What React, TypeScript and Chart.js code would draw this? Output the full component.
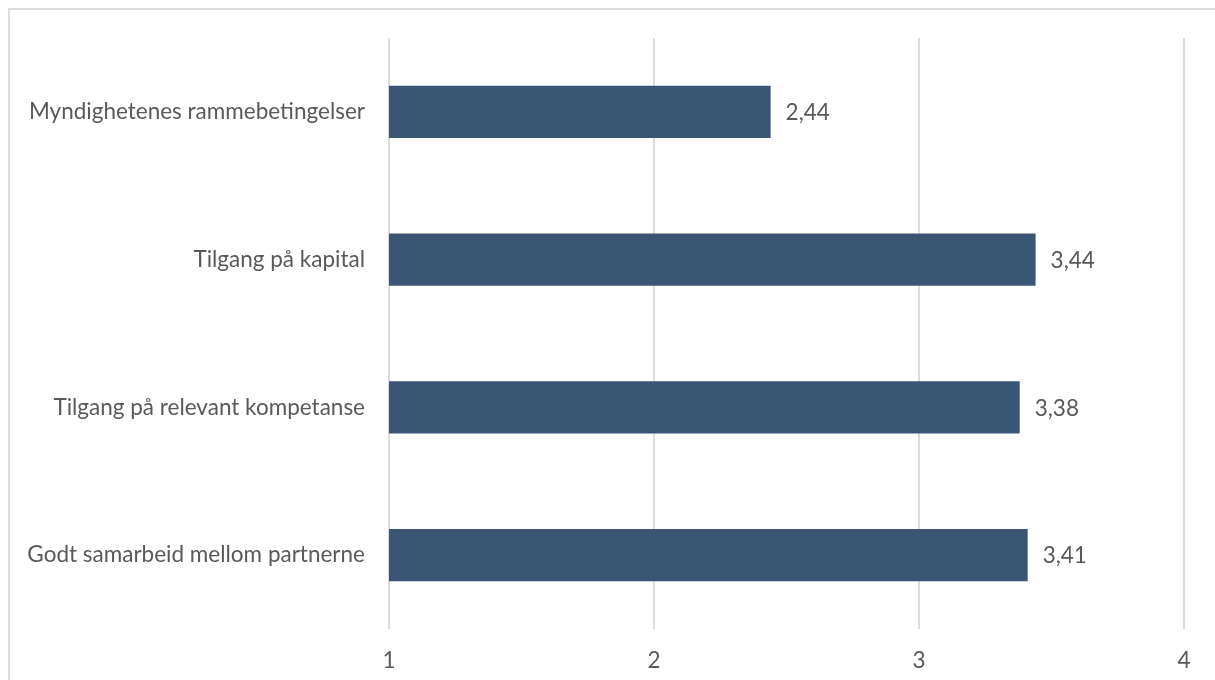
import React, { useEffect, useRef } from "react";
import { Chart, registerables } from "chart.js";

Chart.register(...registerables);

const categories = [
  "Myndighetenes rammebetingelser",
  "Tilgang på kapital",
  "Tilgang på relevant kompetanse",
  "Godt samarbeid mellom partnerne",
];
const values = [2.44, 3.44, 3.38, 3.41];
const xTicks = [1, 2, 3, 4];

const FONT = "Lato";
const TEXT = "#595959";
const BAR = "#3B5674";
const FS = 22.5;

const valueLabels = {
  id: "valueLabels",
  afterDatasetsDraw(chart: any) {
    const ctx = chart.ctx;
    const meta = chart.getDatasetMeta(0);
    ctx.save();
    ctx.font = `${FS}px ${FONT}`;
    ctx.fillStyle = TEXT;
    ctx.textAlign = "left";
    ctx.textBaseline = "middle";
    meta.data.forEach((el: any, i: number) => {
      const v = chart.data.datasets[0].data[i] as number;
      ctx.fillText(v.toFixed(2).replace(".", ","), el.x + 15, el.y + 1);
    });
    ctx.restore();
  },
};

export default function App() {
  const ref = useRef<HTMLCanvasElement | null>(null);
  useEffect(() => {
    if (!ref.current) return;
    const chart = new Chart(ref.current, {
      type: "bar",
      data: {
        labels: categories,
        datasets: [
          {
            data: values,
            backgroundColor: BAR,
            borderWidth: 0,
            categoryPercentage: 1,
            barPercentage: 0.353,
          },
        ],
      },
      options: {
        indexAxis: "y",
        animation: false,
        responsive: true,
        maintainAspectRatio: false,
        layout: { padding: { top: 28, right: 26, bottom: 0, left: 0 } },
        plugins: { legend: { display: false }, tooltip: { enabled: false } },
        scales: {
          x: {
            min: 1,
            max: 4,
            afterBuildTicks(scale: any) {
              scale.ticks = xTicks.map((v) => ({ value: v }));
            },
            afterFit(scale: any) {
              scale.height = 61;
            },
            grid: { color: "#DCDCDC", lineWidth: 2, drawTicks: false },
            border: { display: false },
            ticks: {
              color: TEXT,
              font: { family: FONT, size: FS },
              padding: 18,
            },
          },
          y: {
            afterFit(scale: any) {
              scale.width = 379;
              scale.paddingTop = 0;
              scale.paddingBottom = 0;
            },
            grid: { display: false, drawTicks: false },
            border: { display: false },
            ticks: {
              color: TEXT,
              font: { family: FONT, size: FS },
              padding: 24,
            },
          },
        },
      },
      plugins: [valueLabels],
    });
    return () => chart.destroy();
  }, []);

  return (
    <div style={{ position: "fixed", inset: 0, overflow: "hidden", background: "#fff" }}>
      <div
        style={{
          position: "absolute",
          left: 8,
          top: 8,
          width: 1240,
          height: 700,
          border: "2px solid #DCDCDC",
          boxSizing: "border-box",
        }}
      />
      <div style={{ position: "absolute", left: 10, top: 10, width: 1200, height: 680 }}>
        <canvas ref={ref} />
      </div>
    </div>
  );
}
